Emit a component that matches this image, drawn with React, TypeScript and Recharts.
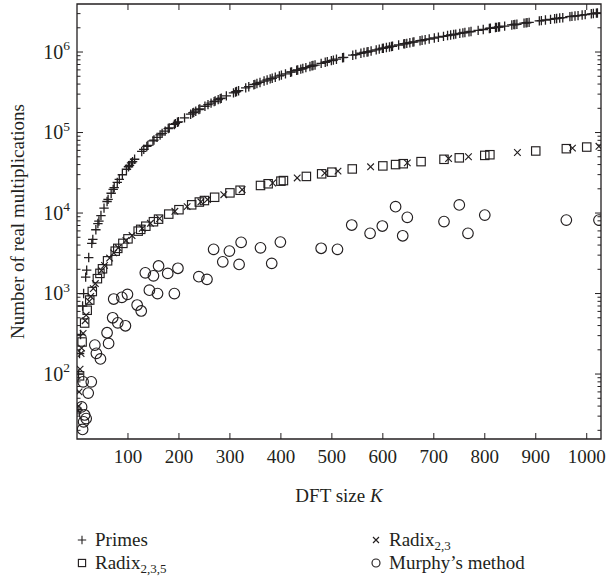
import React from "react";
import { ScatterChart, Scatter, XAxis, YAxis, ReferenceArea, Label } from "recharts";

const INK = "#231f20";
const FONT = "'Liberation Serif', 'Times New Roman', serif";

const CHART_W = 611;
const CHART_H = 577;
const PLOT_LEFT = 77;
const PLOT_RIGHT = 601;
const PLOT_TOP = 4;
const PLOT_BOTTOM = 439;
const PLOT_W = PLOT_RIGHT - PLOT_LEFT;

const X_MIN = 0;
const X_MAX = 1028;
const Y_MIN = 15.6;
const Y_MAX = 3.95e6;

const X_TICKS = [100, 200, 300, 400, 500, 600, 700, 800, 900, 1000];
const Y_MAJOR_TICKS = [1e2, 1e3, 1e4, 1e5, 1e6];
const Y_MINOR_TICKS = [
  20, 30, 40, 50, 60, 70, 80, 90,
  200, 300, 400, 500, 600, 700, 800, 900,
  2e3, 3e3, 4e3, 5e3, 6e3, 7e3, 8e3, 9e3,
  2e4, 3e4, 4e4, 5e4, 6e4, 7e4, 8e4, 9e4,
  2e5, 3e5, 4e5, 5e5, 6e5, 7e5, 8e5, 9e5,
  2e6, 3e6,
];

// Primes (+)
const PRIME_K = [
  2, 3, 5, 7, 11, 13, 17, 19, 23, 29, 31, 37, 41, 43, 47, 53, 59, 61, 67, 71,
  73, 79, 83, 89, 97, 101, 103, 107, 109, 113, 127, 131, 137, 139, 149, 151,
  157, 163, 167, 173, 179, 181, 191, 193, 197, 199, 211, 223, 227, 229, 233,
  239, 241, 251, 257, 263, 269, 271, 277, 281, 283, 293, 307, 311, 313, 317,
  331, 337, 347, 349, 353, 359, 367, 373, 379, 383, 389, 397, 401, 409, 419,
  421, 431, 433, 439, 443, 449, 457, 461, 463, 467, 479, 487, 491, 499, 503,
  509, 521, 523, 541, 547, 557, 563, 569, 571, 577, 587, 593, 599, 601, 607,
  613, 617, 619, 631, 641, 643, 647, 653, 659, 661, 673, 677, 683, 691, 701,
  709, 719, 727, 733, 739, 743, 751, 757, 761, 769, 773, 787, 797, 809, 811,
  821, 823, 827, 829, 839, 853, 857, 859, 863, 877, 881, 883, 887, 907, 911,
  919, 929, 937, 941, 947, 953, 967, 971, 977, 983, 991, 997, 1009, 1013,
  1019, 1021,
];
const PRIME_MULTS = [
  36, 100, 180, 310, 700, 1000, 1600, 1950, 2800, 4200, 4700, 6200, 7400,
  7950, 9300, 11500, 13900, 14800, 17600, 19700, 20700, 24000, 26200, 29900,
  35000, 37600, 39000, 42000, 43500, 46600, 58200, 61800, 67200, 69200, 78600,
  80700, 87000, 93300, 97600, 104000, 112000, 114000, 126000, 129000, 134000,
  136000, 152000, 169000, 175000, 178000, 184000, 193000, 196000, 212000,
  222000, 232000, 242000, 246000, 256000, 263000, 267000, 285000, 311000,
  319000, 323000, 331000, 359000, 371000, 393000, 397000, 406000, 419000,
  436000, 449000, 464000, 472000, 487000, 506000, 516000, 535000, 562000,
  567000, 593000, 598000, 613000, 624000, 641000, 662000, 674000, 680000,
  689000, 723000, 747000, 759000, 782000, 794000, 814000, 850000, 856000,
  913000, 931000, 965000, 986000, 1000000, 1010000, 1030000, 1065000, 1087000,
  1109000, 1116000, 1138000, 1157000, 1173000, 1180000, 1222000, 1261000,
  1269000, 1281000, 1305000, 1329000, 1337000, 1381000, 1398000, 1423000,
  1452000, 1494000, 1528000, 1566000, 1601000, 1628000, 1649000, 1667000,
  1703000, 1731000, 1749000, 1780000, 1799000, 1858000, 1906000, 1963000,
  1973000, 2015000, 2025000, 2045000, 2055000, 2098000, 2168000, 2189000,
  2199000, 2212000, 2284000, 2305000, 2316000, 2337000, 2435000, 2457000,
  2500000, 2546000, 2590000, 2612000, 2641000, 2670000, 2749000, 2772000,
  2802000, 2836000, 2878000, 2912000, 2983000, 3007000, 3042000, 3054000,
];

// Radix 2,3 (x)
const RADIX23_K = [
  2, 3, 4, 6, 8, 9, 12, 16, 18, 24, 27, 32, 36, 48, 54, 64, 72, 81, 96, 108,
  128, 144, 162, 192, 216, 243, 256, 288, 324, 384, 432, 486, 512, 576, 648,
  729, 768, 864, 972, 1024,
];
const RADIX23_MULTS = [
  35, 40, 60, 115, 180, 210, 320, 460, 540, 800, 920, 1150, 1330, 1930, 2240,
  2760, 3200, 3700, 4550, 5250, 6450, 7450, 8550, 10500, 12000, 13800, 14700,
  16900, 19500, 23600, 27300, 31300, 33200, 37500, 42000, 47500, 50000, 56500,
  64000, 67500,
];

// Radix 2,3,5 (squares)
const RADIX235_K = [
  5, 10, 15, 20, 25, 30, 40, 45, 50, 60, 75, 80, 90, 100, 120, 125, 135, 150,
  160, 180, 200, 225, 240, 250, 270, 300, 320, 360, 375, 400, 405, 450, 480,
  500, 540, 600, 625, 640, 675, 720, 750, 800, 810, 900, 960, 1000,
];
const RADIX235_MULTS = [
  95, 250, 430, 620, 830, 1060, 1530, 1780, 2030, 2550, 3360, 3640, 4200, 4780,
  5960, 6270, 6860, 7800, 8400, 9700, 11000, 12650, 13700, 14300, 15700, 17800,
  19200, 22000, 23100, 24900, 25300, 28500, 30700, 32200, 35300, 38500, 40000,
  41000, 43500, 46500, 48500, 52000, 53000, 59000, 63000, 66000,
];

// Murphy's method (circles)
const MURPHY_K = [
  9, 11, 12, 13, 15, 18, 22, 28, 35, 38, 46, 59, 62, 70, 72, 80, 88, 95, 99,
  118, 126, 134, 142, 150, 158, 160, 178, 191, 198, 239, 255, 268, 286, 299,
  318, 322, 360, 382, 399, 479, 511, 539, 575, 599, 625, 639, 648, 720, 750,
  767, 800, 960, 1024,
];
const MURPHY_MULTS = [
  39, 20.5, 80, 25.5, 31, 28, 58, 80, 229, 181, 154, 326, 240, 500, 855, 433,
  897, 398, 977, 720, 607, 1810, 1100, 1660, 1000, 2200, 1780, 1000, 2060,
  1620, 1500, 3540, 2480, 3370, 2300, 4330, 3700, 2370, 4360, 3650, 3540, 7100,
  5600, 6900, 12000, 5220, 8850, 7830, 12600, 5600, 9440, 8180, 8180,
];

const zip = (ks: number[], vs: number[]) => ks.map((k, i) => ({ k, mults: vs[i] }));

const primes = zip(PRIME_K, PRIME_MULTS);
const radix23 = zip(RADIX23_K, RADIX23_MULTS);
const radix235 = zip(RADIX235_K, RADIX235_MULTS);
const murphy = zip(MURPHY_K, MURPHY_MULTS);

function PlusMark({ cx, cy, s = 4.7, w = 1.3 }: any) {
  return (
    <path
      d={`M${cx - s},${cy}H${cx + s}M${cx},${cy - s}V${cy + s}`}
      stroke={INK}
      strokeWidth={w}
      fill="none"
    />
  );
}

function CrossMark({ cx, cy, s = 3.3 }: any) {
  return (
    <path
      d={`M${cx - s},${cy - s}L${cx + s},${cy + s}M${cx - s},${cy + s}L${cx + s},${cy - s}`}
      stroke={INK}
      strokeWidth={1.15}
      fill="none"
    />
  );
}

function SquareMark({ cx, cy, s = 4.2 }: any) {
  return (
    <rect
      x={cx - s}
      y={cy - s}
      width={2 * s}
      height={2 * s}
      stroke={INK}
      strokeWidth={1.15}
      fill="none"
    />
  );
}

function CircleMark({ cx, cy, r = 5.3 }: any) {
  return <circle cx={cx} cy={cy} r={r} stroke={INK} strokeWidth={1.15} fill="none" />;
}

function XTick({ x, y, payload }: any) {
  return (
    <g>
      <line x1={x} x2={x} y1={y} y2={y - 6} stroke={INK} strokeWidth={1} />
      <line x1={x} x2={x} y1={PLOT_TOP} y2={PLOT_TOP + 6} stroke={INK} strokeWidth={1} />
      <text x={x} y={y + 24} textAnchor="middle" fontFamily={FONT} fontSize={19} fill={INK}>
        {payload.value}
      </text>
    </g>
  );
}

function YTick({ x, y, payload }: any) {
  const v = payload.value;
  const exp = Math.round(Math.log10(v));
  const major = Y_MAJOR_TICKS.includes(v);
  const len = major ? 6 : 3.5;
  const rx = x + PLOT_W;
  return (
    <g>
      <line x1={x} x2={x + len} y1={y} y2={y} stroke={INK} strokeWidth={1} />
      <line x1={rx} x2={rx - len} y1={y} y2={y} stroke={INK} strokeWidth={1} />
      {major && (
        <text x={x - 7} y={y + 6.5} textAnchor="end" fontFamily={FONT} fontSize={20} fill={INK}>
          10
          <tspan dy={-8.5} fontSize={13.5}>
            {exp}
          </tspan>
        </text>
      )}
    </g>
  );
}

function LegendMark({ kind, cx, cy }: any) {
  if (kind === "plus") return <PlusMark cx={cx} cy={cy} s={4.2} w={1.1} />;
  if (kind === "cross") return <CrossMark cx={cx} cy={cy} s={3} />;
  if (kind === "square") return <SquareMark cx={cx} cy={cy} s={3.6} />;
  return <CircleMark cx={cx} cy={cy} r={4} />;
}

function BottomText({ viewBox }: any) {
  const cx = viewBox.x + viewBox.width / 2;
  const col1 = 82;
  const col2 = 376;
  const row1 = 546;
  const row2 = 569;
  const t = { fontFamily: FONT, fontSize: 19, fill: INK } as const;
  return (
    <g>
      <text x={cx} y={502} textAnchor="middle" {...t}>
        DFT size <tspan fontStyle="italic">K</tspan>
      </text>
      <LegendMark kind="plus" cx={col1} cy={row1 - 6} />
      <text x={col1 + 13} y={row1} {...t}>Primes</text>
      <LegendMark kind="cross" cx={col2} cy={row1 - 6} />
      <text x={col2 + 13} y={row1} {...t}>
        Radix<tspan dy={4} fontSize={13}>2,3</tspan>
      </text>
      <LegendMark kind="square" cx={col1} cy={row2 - 6} />
      <text x={col1 + 13} y={row2} {...t}>
        Radix<tspan dy={4} fontSize={13}>2,3,5</tspan>
      </text>
      <LegendMark kind="circle" cx={col2} cy={row2 - 6} />
      <text x={col2 + 13} y={row2} {...t}>Murphy’s method</text>
    </g>
  );
}

function SideText({ viewBox }: any) {
  const cy = viewBox.y + viewBox.height / 2;
  return (
    <text
      x={24}
      y={cy}
      transform={`rotate(-90 24 ${cy})`}
      textAnchor="middle"
      fontFamily={FONT}
      fontSize={19}
      fill={INK}
    >
      Number of real multiplications
    </text>
  );
}

export default function App() {
  const yTicks = [...Y_MINOR_TICKS, ...Y_MAJOR_TICKS].sort((a, b) => a - b);
  return (
    <div style={{ width: CHART_W, height: CHART_H, background: "#fff" }}>
      <style>{"body{margin:0;background:#fff}"}</style>
      <ScatterChart
        width={CHART_W}
        height={CHART_H}
        margin={{ top: PLOT_TOP, right: CHART_W - PLOT_RIGHT, bottom: 0, left: 0 }}
      >
        <XAxis
          type="number"
          dataKey="k"
          domain={[X_MIN, X_MAX]}
          allowDataOverflow
          ticks={X_TICKS}
          interval={0}
          tick={<XTick />}
          tickSize={0}
          tickMargin={0}
          tickLine={false}
          axisLine={false}
          height={CHART_H - PLOT_BOTTOM}
        >
          <Label content={<BottomText />} />
        </XAxis>
        <YAxis
          type="number"
          dataKey="mults"
          scale="log"
          domain={[Y_MIN, Y_MAX]}
          allowDataOverflow
          ticks={yTicks}
          interval={0}
          tick={<YTick />}
          tickSize={0}
          tickMargin={0}
          tickLine={false}
          axisLine={false}
          width={PLOT_LEFT}
        >
          <Label content={<SideText />} />
        </YAxis>
        <Scatter data={murphy} shape={<CircleMark />} isAnimationActive={false} />
        <Scatter data={radix235} shape={<SquareMark />} isAnimationActive={false} />
        <Scatter data={radix23} shape={<CrossMark />} isAnimationActive={false} />
        <Scatter data={primes} shape={<PlusMark />} isAnimationActive={false} />
        <ReferenceArea
          x1={X_MIN}
          x2={X_MAX}
          y1={Y_MIN}
          y2={Y_MAX}
          fill="none"
          stroke={INK}
          strokeWidth={1.3}
          ifOverflow="visible"
        />
      </ScatterChart>
    </div>
  );
}
